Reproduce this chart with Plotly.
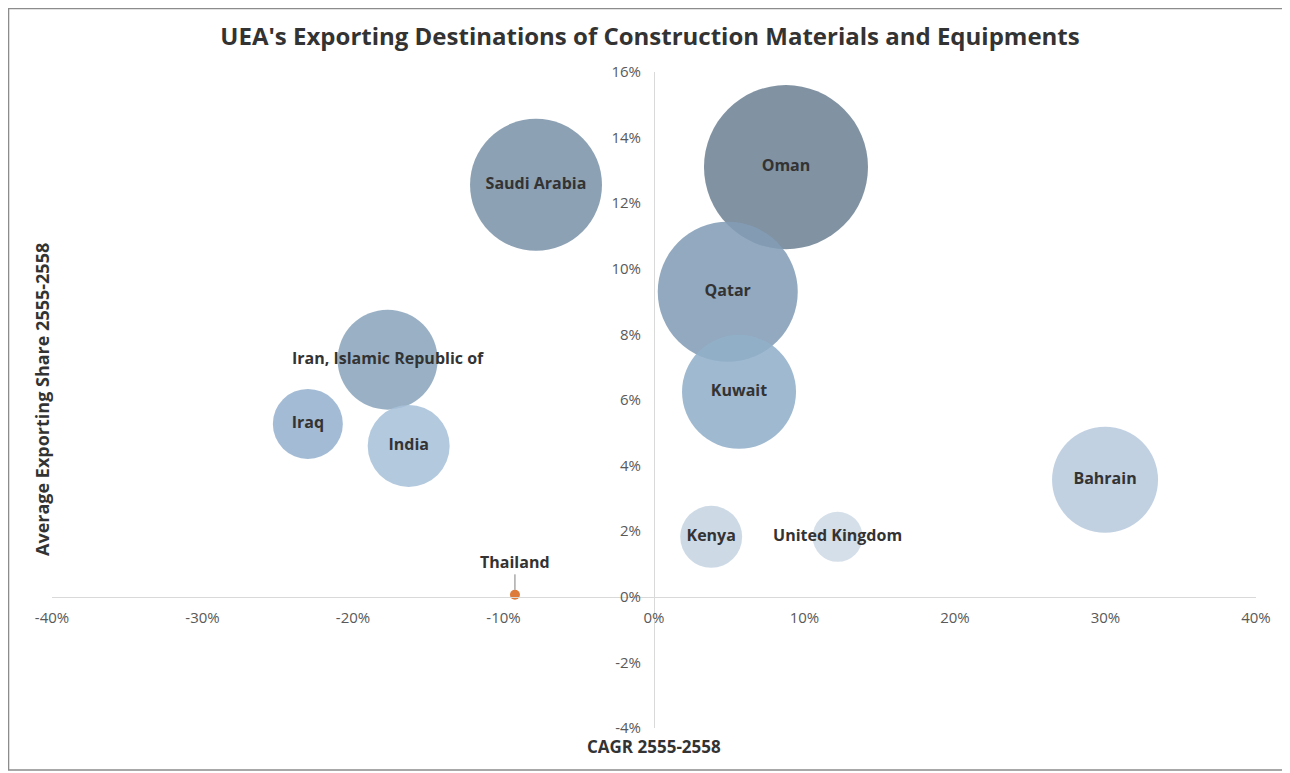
import plotly.graph_objects as go

countries = ["Oman", "Saudi Arabia", "Qatar", "Kuwait", "Iran, Islamic Republic of",
             "Iraq", "India", "Bahrain", "Kenya", "United Kingdom"]
cagr = [8.77, -7.84, 4.9, 5.65, -17.7, -23.0, -16.3, 29.97, 3.8, 12.2]
share = [13.1, 12.56, 9.3, 6.25, 7.23, 5.27, 4.6, 3.57, 1.83, 1.83]
bubble_size = [2690, 1742, 1960, 1300, 1000, 490, 672, 1124, 384, 250]
colors = ["#6f8395", "#7c94a8", "#839db6", "#92afca", "#8ca6bd",
          "#96b2cf", "#a9c2d9", "#b8cbde", "#c6d5e3", "#cfdbe6"]

thai_name = "Thailand"
thai_cagr = -9.24
thai_share = 0.06

x_ticks = [-40, -30, -20, -10, 0, 10, 20, 30, 40]
y_ticks = [-4, -2, 0, 2, 4, 6, 8, 10, 12, 14, 16]

FONT = "'Open Sans', Lato, sans-serif"

fig = go.Figure()

fig.add_trace(go.Scatter(
    x=cagr, y=share, mode="markers+text", text=countries,
    textposition="middle center",
    textfont=dict(family=FONT, size=16, color="#333333", weight=700),
    marker=dict(size=bubble_size, sizemode="area", sizeref=0.2,
                color=colors, opacity=0.88, line=dict(width=0)),
    hoverinfo="skip", showlegend=False,
))

fig.add_trace(go.Scatter(
    x=[thai_cagr], y=[thai_share], mode="markers",
    marker=dict(size=10, color="#dd7b3d", line=dict(width=0)),
    hoverinfo="skip", showlegend=False,
))

fig.add_annotation(x=thai_cagr, y=thai_share, text=thai_name, showarrow=True,
                   arrowhead=0, arrowwidth=1, arrowcolor="#7f7f7f",
                   ax=0, ay=-33, standoff=5,
                   font=dict(family=FONT, size=16, color="#333333", weight=700))

fig.update_xaxes(range=[-40, 40], tickvals=x_ticks,
                 ticktext=[f"{v}%" for v in x_ticks],
                 showgrid=False, zeroline=False, showline=True,
                 linecolor="#d9d9d9", linewidth=1,
                 anchor="free", position=0.2, ticks="", ticklabelstandoff=7,
                 tickfont=dict(family=FONT, size=15, color="#595959"))
fig.update_yaxes(range=[-4, 16], tickvals=y_ticks,
                 ticktext=[f"{v}%" for v in y_ticks],
                 showgrid=False, zeroline=False, showline=True,
                 linecolor="#d9d9d9", linewidth=1,
                 anchor="free", position=0.5, ticks="", ticklabelstandoff=10,
                 tickfont=dict(family=FONT, size=15, color="#595959"))

fig.add_annotation(text="CAGR 2555-2558", xref="paper", yref="paper",
                   x=0.5, y=-0.028, yanchor="middle", showarrow=False,
                   font=dict(family=FONT, size=17, color="#333333", weight=700))
fig.add_annotation(text="Average Exporting Share 2555-2558", xref="paper", yref="paper",
                   x=-0.0083, y=0.5, xanchor="center", yanchor="middle",
                   textangle=-90, showarrow=False,
                   font=dict(family=FONT, size=18, color="#333333", weight=700))

fig.add_shape(type="rect", xref="paper", yref="paper",
              x0=-0.0361, x1=1.0257, y0=-0.064, y1=1.0968,
              line=dict(color="#8c8c8c", width=1.5))

fig.update_layout(
    width=1282, height=765,
    margin=dict(l=44, r=34, t=64, b=45),
    paper_bgcolor="white", plot_bgcolor="white",
    title=dict(text="<b>UEA's Exporting Destinations of Construction Materials and Equipments</b>",
               x=0.5008, xanchor="center", y=0.963, yanchor="middle",
               font=dict(family=FONT, size=24, color="#333333")),
)

fig.write_html("out.html")
